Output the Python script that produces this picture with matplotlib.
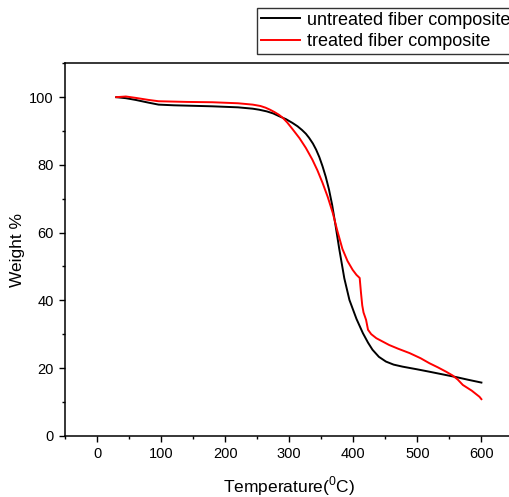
import matplotlib
matplotlib.use("Agg")
import matplotlib.pyplot as plt
from matplotlib.ticker import MultipleLocator

plt.rcParams['font.family'] = ['Liberation Sans', 'DejaVu Sans']
plt.rcParams['mathtext.fontset'] = 'custom'
plt.rcParams['mathtext.rm'] = 'Liberation Sans'

# untreated fiber composite
temp_untreated = [30, 45, 60, 80, 96, 120, 140, 180, 220, 243, 253, 265, 275, 284, 295,
                  305, 313, 320, 326, 331, 337, 342, 347, 352, 357, 362, 367, 372, 378,
                  386, 394, 405, 415, 423, 430, 440, 451, 463, 477, 500, 519, 540, 561,
                  580, 600]
wt_untreated = [100, 99.7, 99.2, 98.4, 97.8, 97.6, 97.5, 97.3, 97.0, 96.6, 96.3, 95.8,
                95.2, 94.4, 93.5, 92.4, 91.4, 90.3, 89.2, 88.0, 86.3, 84.5, 82.3, 79.6,
                76.5, 72.8, 68.2, 62.5, 55.3, 46.5, 40.1, 34.5, 30.3, 27.5, 25.4, 23.3,
                21.9, 21.0, 20.4, 19.6, 18.9, 18.1, 17.3, 16.5, 15.7]

# treated fiber composite
temp_treated = [30, 45, 60, 80, 96, 140, 180, 220, 243, 255, 263, 270, 277, 284, 290,
                297, 305, 316, 326, 336, 344, 352, 360, 368, 375, 383, 391, 399, 405,
                410, 412, 414, 416, 420, 423, 428, 436, 446, 456, 470, 488, 505, 519,
                532, 545, 555, 563, 571, 585, 597, 600]
wt_treated = [100, 100.2, 99.8, 99.2, 98.8, 98.6, 98.5, 98.2, 97.8, 97.4, 96.9, 96.3,
              95.6, 94.8, 93.9, 92.5, 90.6, 87.9, 85.0, 81.6, 78.4, 74.7, 70.6, 65.8,
              60.6, 55.2, 51.6, 49.0, 47.5, 46.6, 42.3, 38.5, 36.4, 34.2, 31.3, 30.0,
              28.8, 27.8, 26.8, 25.7, 24.4, 22.9, 21.4, 20.2, 18.9, 17.8, 16.6, 15.0,
              13.3, 11.5, 10.8]

fig = plt.figure(figsize=(5.09, 4.97), dpi=100)
ax = fig.add_axes([0.1277, 0.1233, 0.881, 0.7493])

l1, = ax.plot(temp_untreated, wt_untreated, color="black", lw=1.4,
              label="untreated fiber composite")
l2, = ax.plot(temp_treated, wt_treated, color="red", lw=1.4,
              label="treated fiber composite")

ax.set_xlim(-50, 650)
ax.set_ylim(0, 110)
ax.xaxis.set_major_locator(MultipleLocator(100))
ax.xaxis.set_minor_locator(MultipleLocator(50))
ax.yaxis.set_major_locator(MultipleLocator(20))
ax.yaxis.set_minor_locator(MultipleLocator(10))
ax.tick_params(which="major", direction="out", length=4.5, width=1, labelsize=10.5,
               top=False, right=False)
ax.tick_params(which="minor", direction="out", length=2.5, width=1,
               top=False, right=False)
for s in ax.spines.values():
    s.set_linewidth(1.1)

ax.set_xlabel("Temperature($^{0}$C)", fontsize=12.5, labelpad=10)
ax.set_ylabel("Weight %", fontsize=12.5, labelpad=3)

leg = fig.legend(handles=[l1, l2], loc="upper left",
                 bbox_to_anchor=(257 / 509, 1 - 8 / 497), bbox_transform=fig.transFigure,
                 fontsize=13, frameon=True, fancybox=False, borderaxespad=0,
                 handlelength=2.2, handletextpad=0.35, labelspacing=0.25,
                 borderpad=0.2)
leg.get_frame().set_edgecolor("black")
leg.get_frame().set_linewidth(1.0)

fig.savefig("out.png", dpi=100)
